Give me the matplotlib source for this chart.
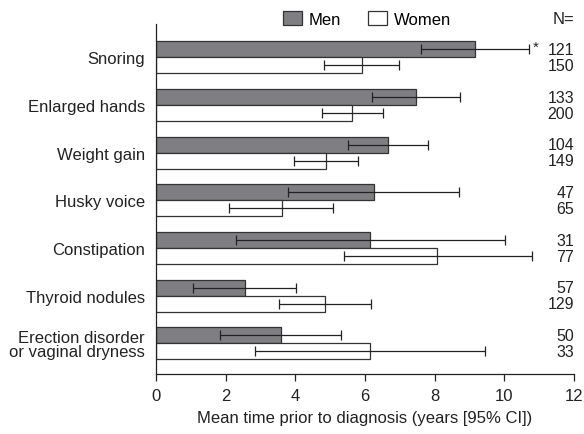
import matplotlib
matplotlib.use("Agg")
import matplotlib.pyplot as plt
import numpy as np

plt.rcParams['font.family'] = ['Liberation Sans', 'DejaVu Sans']

categories = ["Snoring", "Enlarged hands", "Weight gain", "Husky voice",
              "Constipation", "Thyroid nodules", "Erection disorder\nor vaginal dryness"]
men_mean = [9.16, 7.46, 6.66, 6.27, 6.13, 2.57, 3.59]
men_lo = [7.60, 6.19, 5.50, 3.80, 2.29, 1.07, 1.84]
men_hi = [10.71, 8.74, 7.81, 8.71, 10.02, 4.02, 5.32]
women_mean = [5.90, 5.64, 4.89, 3.61, 8.08, 4.85, 6.14]
women_lo = [4.81, 4.77, 3.96, 2.10, 5.39, 3.54, 2.85]
women_hi = [6.97, 6.53, 5.80, 5.08, 10.80, 6.17, 9.44]
men_n = [121, 133, 104, 47, 31, 57, 50]
women_n = [150, 200, 149, 65, 77, 129, 33]
significant = [True, False, False, False, False, False, False]

FS = 12
TXT = "#222222"

fig = plt.figure(figsize=(5.84, 4.35), dpi=100)
ax = fig.add_axes([0.267, 0.138, 0.716, 0.8045])

y = np.arange(len(categories))
h = 0.335
men_color = "#7f7f82"
edge = "#333333"

men_mean_a = np.array(men_mean)
women_mean_a = np.array(women_mean)
ax.barh(y - h/2, men_mean, height=h, color=men_color, edgecolor=edge, linewidth=0.9, label="Men")
ax.barh(y + h/2, women_mean, height=h, color="white", edgecolor=edge, linewidth=0.9, label="Women")
ax.errorbar(men_mean, y - h/2,
            xerr=[men_mean_a - np.array(men_lo), np.array(men_hi) - men_mean_a],
            fmt="none", ecolor=TXT, elinewidth=0.9, capsize=3.5, capthick=0.9)
ax.errorbar(women_mean, y + h/2,
            xerr=[women_mean_a - np.array(women_lo), np.array(women_hi) - women_mean_a],
            fmt="none", ecolor=TXT, elinewidth=0.9, capsize=3.5, capthick=0.9)

for i, s in enumerate(significant):
    if s:
        ax.text(men_hi[i] + 0.1, y[i] - h/2 - 0.06, "*", fontsize=11, ha="left", va="center", color=TXT)

for i in range(len(categories)):
    ax.text(1.0, y[i] - h/2, str(men_n[i]), transform=ax.get_yaxis_transform(),
            ha="right", va="center", fontsize=11.5, color=TXT)
    ax.text(1.0, y[i] + h/2, str(women_n[i]), transform=ax.get_yaxis_transform(),
            ha="right", va="center", fontsize=11.5, color=TXT)

ax.set_xlim(0, 12)
ax.set_ylim(6.64, -0.70)
ax.set_xticks(range(0, 13, 2))
ax.set_yticks(y)
ax.set_yticklabels(categories, fontsize=FS, color=TXT, linespacing=0.95)
ax.tick_params(axis="y", length=0, pad=8)
ax.tick_params(axis="x", length=5, width=0.9, direction="out", labelsize=FS, colors=TXT, pad=5)
for sp in ["top", "right"]:
    ax.spines[sp].set_visible(False)
for sp in ["left", "bottom"]:
    ax.spines[sp].set_linewidth(0.9)
    ax.spines[sp].set_color(TXT)
ax.set_xlabel("Mean time prior to diagnosis (years [95% CI])", fontsize=FS, color=TXT, labelpad=5)

leg = fig.legend(loc="center left", bbox_to_anchor=(283/584, 1 - 20/435), ncol=2, frameon=False,
                 fontsize=FS, handlelength=1.15, handleheight=0.95, columnspacing=1.6,
                 handletextpad=0.4, borderpad=0, borderaxespad=0)
fig.text(574/584, 1 - 20/435, "N=", ha="right", va="center", fontsize=FS, color=TXT)

fig.savefig("out.png", dpi=100)
